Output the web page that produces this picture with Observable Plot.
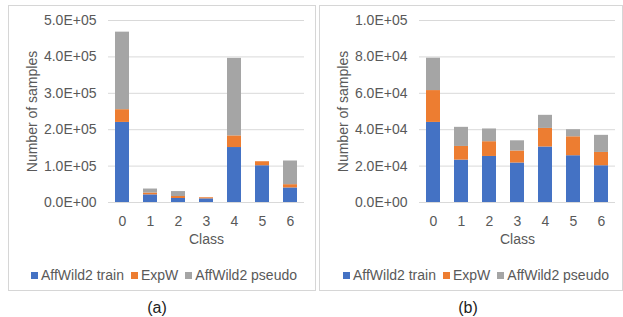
<!DOCTYPE html>
<html><head><meta charset="utf-8">
<script src="https://cdn.jsdelivr.net/npm/d3@7"></script>
<script src="https://cdn.jsdelivr.net/npm/@observablehq/plot@0.6"></script>
<style>
body{margin:0;background:#fff;font-family:"Liberation Sans",Arial,sans-serif;}
#root{position:relative;width:623px;height:317px;overflow:hidden;background:#fff;}
.panel{position:absolute;top:5px;height:284px;border:1px solid #d6d6d6;}
.panel > svg{position:absolute;left:0;top:0;}
.lg{position:absolute;left:0;right:0;top:261px;height:16px;display:flex;justify-content:center;align-items:center;}
.lg .lgd-swatches{margin:0 !important;min-height:0 !important;}
.lg .lgd-swatch{margin-right:7px !important;}
.lg .lgd-swatch:last-child{margin-right:0 !important;}
.lg .lgd-swatch > svg{margin-right:3px !important;}
.cap{position:absolute;top:299px;font-size:16px;color:#222;transform:translateX(-50%);line-height:18px;}
</style>
</head><body>
<div id="root">
  <div class="panel" id="pa" style="left:8px;width:306px;"></div>
  <div class="panel" id="pb" style="left:319px;width:302px;"></div>
  <div class="cap" style="left:157px;">(a)</div>
  <div class="cap" style="left:468px;">(b)</div>
</div>
<script>
const classes = ["0","1","2","3","4","5","6"];
const seriesNames = ["AffWild2 train","ExpW","AffWild2 pseudo"];
const seriesColors = ["#4472C4","#ED7D31","#A5A5A5"];

// panel (a)
const trainA  = [220000, 21000, 11000, 10000, 151000, 101000, 40000];
const expwA   = [35000, 5000, 5500, 3000, 32000, 11000, 9000];
const pseudoA = [213000, 11000, 13500, 0, 213000, 0, 65000];
const yTicksA  = [0, 100000, 200000, 300000, 400000, 500000];
const yLabelsA = ["0.0E+00","1.0E+05","2.0E+05","3.0E+05","4.0E+05","5.0E+05"];

// panel (b)
const trainB  = [44000, 23300, 25300, 21700, 30500, 25700, 20200];
const expwB   = [17500, 7500, 8100, 6600, 10200, 10400, 7300];
const pseudoB = [17800, 10500, 7000, 5600, 7200, 3900, 9400];
const yTicksB  = [0, 20000, 40000, 60000, 80000, 100000];
const yLabelsB = ["0.0E+00","2.0E+04","4.0E+04","6.0E+04","8.0E+04","1.0E+05"];

const yTitle = "Number of samples";
const xTitle = "Class";

function makePanel(values, yTicks, yLabels, width, marginRight) {
  const rows = [];
  seriesNames.forEach((s, si) => classes.forEach((c, ci) => rows.push({cls: c, series: s, value: values[si][ci]})));
  return Plot.plot({
    width, height: 250, marginTop: 14, marginBottom: 54, marginLeft: 99, marginRight,
    style: {fontFamily: "Liberation Sans, Arial, sans-serif", fontSize: "14px", color: "#595959", background: "transparent", overflow: "visible"},
    x: {domain: classes, paddingInner: 0.5, paddingOuter: 0.25},
    y: {domain: [yTicks[0], yTicks[yTicks.length - 1]]},
    color: {domain: seriesNames, range: seriesColors},
    marks: [
      Plot.gridY(yTicks, {stroke: "#d9d9d9", strokeOpacity: 1}),
      Plot.barY(rows, {x: "cls", y: "value", fill: "series", order: seriesNames}),
      Plot.axisY(yTicks, {tickSize: 0, tickPadding: 12, tickFormat: d => yLabels[yTicks.indexOf(d)], label: null}),
      Plot.axisX({tickSize: 0, tickPadding: 14, label: null}),
      Plot.text([yTitle], {text: d => d, frameAnchor: "left", textAnchor: "middle", lineAnchor: "middle", rotate: -90, dx: -76}),
      Plot.text([xTitle], {text: d => d, frameAnchor: "bottom", textAnchor: "middle", lineAnchor: "middle", dy: 37})
    ]
  });
}

function makeLegend(pad) {
  const wrap = document.createElement("div");
  wrap.className = "lg";
  wrap.style.paddingLeft = pad + "px";
  wrap.appendChild(Plot.legend({
    color: {type: "categorical", domain: seriesNames, range: seriesColors},
    swatchSize: 7, className: "lgd",
    style: {fontFamily: "Liberation Sans, Arial, sans-serif", fontSize: "14px", color: "#595959"}
  }));
  return wrap;
}

const pa = document.getElementById("pa");
pa.appendChild(makePanel([trainA, expwA, pseudoA], yTicksA, yLabelsA, 306, 11));
pa.appendChild(makeLegend(4));
const pb = document.getElementById("pb");
pb.appendChild(makePanel([trainB, expwB, pseudoB], yTicksB, yLabelsB, 302, 7));
pb.appendChild(makeLegend(10));
</script>
</body></html>
